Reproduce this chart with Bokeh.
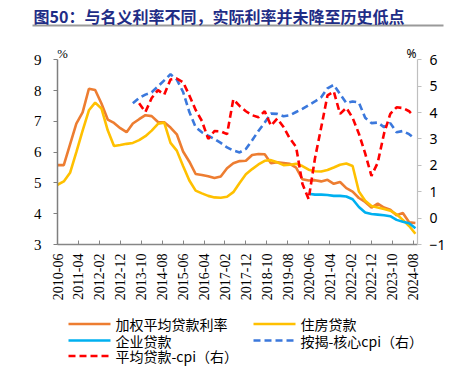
import math
from bokeh.plotting import figure
from bokeh.layouts import column
from bokeh.models import (Range1d, LinearAxis, FixedTicker, Label, ColumnDataSource)
from bokeh.embed import file_html
from bokeh.resources import INLINE

# ---------------- data ----------------
title_text = "图50：与名义利率不同，实际利率并未降至历史低点"

tick_labels = ["2010-06", "2011-04", "2012-02", "2012-12", "2013-10", "2014-08",
               "2015-06", "2016-04", "2017-02", "2017-12", "2018-10", "2019-08",
               "2020-06", "2021-04", "2022-02", "2022-12", "2023-10", "2024-08"]

quarters = ["2010-06", "2010-09", "2010-12", "2011-03", "2011-06", "2011-09", "2011-12",
            "2012-03", "2012-06", "2012-09", "2012-12", "2013-03", "2013-06", "2013-09",
            "2013-12", "2014-03", "2014-06", "2014-09", "2014-12", "2015-03", "2015-06",
            "2015-09", "2015-12", "2016-03", "2016-06", "2016-09", "2016-12", "2017-03",
            "2017-06", "2017-09", "2017-12", "2018-03", "2018-06", "2018-09", "2018-12",
            "2019-03", "2019-06", "2019-09", "2019-12", "2020-03", "2020-06", "2020-09",
            "2020-12", "2021-03", "2021-06", "2021-09", "2021-12", "2022-03", "2022-06",
            "2022-09", "2022-12", "2023-03", "2023-06", "2023-09", "2023-12", "2024-03",
            "2024-06", "2024-09"]

weighted_avg = [5.58, 5.58, 6.25, 6.93, 7.29, 8.06, 8.02, 7.58, 7.06, 6.95,
                6.78, 6.65, 6.93, 7.07, 7.20, 7.17, 6.98, 6.97, 6.80, 6.58,
                6.02, 5.69, 5.29, 5.26, 5.22, 5.16, 5.21, 5.48, 5.64, 5.71,
                5.72, 5.91, 5.94, 5.93, 5.64, 5.67, 5.65, 5.62, 5.50, 5.12,
                5.08, 5.09, 5.05, 5.10, 4.97, 5.03, 4.83, 4.72, 4.51, 4.38,
                4.20, 4.33, 4.20, 4.13, 3.95, 4.02, 3.72, 3.70]

housing = [4.94, 5.05, 5.33, 6.00, 6.70, 7.36, 7.61, 7.42, 6.71, 6.20,
           6.23, 6.27, 6.30, 6.39, 6.52, 6.70, 6.92, 6.96, 6.30, 6.05,
           5.55, 5.08, 4.75, 4.66, 4.58, 4.53, 4.52, 4.55, 4.70, 5.00,
           5.28, 5.45, 5.60, 5.72, 5.74, 5.67, 5.58, 5.59, 5.62, 5.55,
           5.43, 5.38, 5.37, 5.42, 5.50, 5.59, 5.63, 5.55, 4.72, 4.42,
           4.25, 4.20, 4.15, 4.10, 3.98, 3.80, 3.60, 3.35]

corp_quarters = quarters[40:]
corporate = [4.65, 4.62, 4.62, 4.61, 4.58, 4.58, 4.56, 4.47, 4.22, 4.04,
             3.99, 3.97, 3.95, 3.92, 3.80, 3.74, 3.69, 3.53]

mort_dates = quarters[12:57] + ["2024-08"]
mortgage_core = [4.35, 4.55, 4.68, 4.77, 4.99, 5.22, 5.45, 5.25, 4.78, 4.02,
                 3.45, 3.25, 3.12, 3.00, 2.85, 2.68, 2.56, 2.49, 2.62, 2.95,
                 3.30, 3.62, 3.96, 3.95, 3.86, 3.90, 4.02, 4.14, 4.28, 4.42,
                 4.58, 4.92, 5.05, 4.70, 4.36, 4.42, 4.38, 3.80, 3.60, 3.62,
                 3.45, 3.60, 3.25, 3.30, 3.18, 3.05]

real_dates = quarters[13:57] + ["2024-08"]
avg_real = [4.35, 4.02, 4.55, 4.85, 4.68, 5.25, 5.29, 5.15, 4.65, 4.10,
            3.68, 3.00, 3.30, 3.29, 3.18, 4.50, 4.25, 4.05, 3.90, 3.82,
            4.05, 3.50, 3.77, 3.45, 3.02, 2.70, 1.30, 0.72, 2.26, 3.44,
            4.65, 4.80, 3.95, 4.18, 3.80, 3.20, 2.45, 1.60, 2.10, 3.20,
            3.95, 4.20, 4.17, 4.05, 3.88]

left_ticks = [3, 4, 5, 6, 7, 8, 9]
right_ticks = [-1, 0, 1, 2, 3, 4, 5, 6]

series_names = ["加权平均贷款利率", "住房贷款", "企业贷款", "按揭-核心cpi（右）", "平均贷款-cpi（右）"]
series_colors = ["#ED7D31", "#FFC000", "#00B0F0", "#3B78DC", "#FF0000"]
series_dash = ["solid", "solid", "solid", "7 4", "7 4"]


def month_index(s):
    y, m = s.split("-")
    return (int(y) - 2010) * 12 + int(m) - 6


tick_pos = [month_index(t) for t in tick_labels]

# ---------------- title strip ----------------
pt = figure(width=450, height=30, output_backend="svg", toolbar_location=None,
            x_range=Range1d(0, 450), y_range=Range1d(0, 30),
            x_axis_type=None, y_axis_type=None, min_border=0, frame_align=False)
pt.outline_line_color = None
pt.add_layout(Label(x=33, y=15, text=title_text,
                    text_font="Noto Sans CJK SC", text_font_style="bold",
                    text_font_size="16px", text_color="#1F2D86",
                    text_baseline="middle", text_align="left"))
pt.segment(x0=[32], y0=[5], x1=[443], y1=[5], line_color="#9A9A9A", line_width=2)

# ---------------- main chart ----------------
p = figure(width=450, height=280, output_backend="svg", toolbar_location=None,
           x_range=Range1d(0, 172), y_range=Range1d(3, 9.465),
           min_border_left=57, min_border_right=33, min_border_top=15,
           min_border_bottom=66, frame_align=False)
p.extra_y_ranges = {"right": Range1d(-1, 6.541)}
p.outline_line_color = None
p.xgrid.visible = False
p.ygrid.visible = False

src_q = ColumnDataSource(dict(x=[month_index(q) for q in quarters], wa=weighted_avg, hs=housing))
src_c = ColumnDataSource(dict(x=[month_index(q) for q in corp_quarters], y=corporate))
src_m = ColumnDataSource(dict(x=[month_index(q) for q in mort_dates], y=mortgage_core))
src_r = ColumnDataSource(dict(x=[month_index(q) for q in real_dates], y=avg_real))

p.line("x", "wa", source=src_q, line_color=series_colors[0], line_width=2.6)
p.line("x", "hs", source=src_q, line_color=series_colors[1], line_width=2.6)
p.line("x", "y", source=src_c, line_color=series_colors[2], line_width=2.6)
p.line("x", "y", source=src_m, line_color=series_colors[3], line_width=2.6,
       line_dash=series_dash[3], y_range_name="right")
p.line("x", "y", source=src_r, line_color=series_colors[4], line_width=2.6,
       line_dash=series_dash[4], y_range_name="right")

# x axis
xa = p.xaxis[0]
xa.ticker = FixedTicker(ticks=tick_pos)
xa.major_label_overrides = {pos: lab for pos, lab in zip(tick_pos, tick_labels)}
xa.major_label_orientation = math.pi / 2
xa.major_label_text_font = "Liberation Serif"
xa.major_label_text_font_size = "14px"
xa.major_label_text_color = "black"
xa.axis_line_color = "#868686"
xa.axis_line_width = 1.5
xa.major_tick_line_color = "#868686"
xa.major_tick_in = 4
xa.major_tick_out = 0
xa.minor_tick_line_color = None
xa.major_label_standoff = 9

# left axis
ya = p.yaxis[0]
ya.ticker = FixedTicker(ticks=left_ticks)
ya.bounds = (3, 9)
ya.major_label_text_font = "Liberation Serif"
ya.major_label_text_font_size = "15px"
ya.major_label_text_color = "black"
ya.axis_line_color = "#7F7F7F"
ya.axis_line_width = 1.5
ya.major_tick_line_color = "#7F7F7F"
ya.major_tick_out = 4
ya.major_tick_in = 0
ya.minor_tick_line_color = None
ya.major_label_standoff = 12

# right axis
ra = LinearAxis(y_range_name="right", ticker=FixedTicker(ticks=right_ticks), bounds=(-1, 6))
ra.major_label_text_font = "Noto Sans"
ra.major_label_text_font_size = "14px"
ra.major_label_text_color = "black"
ra.axis_line_color = "#BFBFBF"
ra.axis_line_width = 1.2
ra.major_tick_line_color = "#BFBFBF"
ra.major_tick_out = 4
ra.major_tick_in = 0
ra.minor_tick_line_color = None
ra.major_label_standoff = 8
p.add_layout(ra, "right")

# unit marks
p.add_layout(Label(x=2.3, y=9.2, text="%", text_font="Liberation Serif",
                   text_font_size="13px", text_color="black",
                   text_baseline="middle", text_align="center"))
p.add_layout(Label(x=172, y=9.2, x_offset=-1, text="%", text_font="Noto Sans",
                   text_font_size="12px", text_color="black",
                   text_baseline="middle", text_align="right"))

# ---------------- legend strip (swatches + labels, two columns) ----------------
pl = figure(width=450, height=65, output_backend="svg", toolbar_location=None,
            x_range=Range1d(0, 450), y_range=Range1d(0, 65),
            x_axis_type=None, y_axis_type=None, min_border=0, frame_align=False)
pl.outline_line_color = None
col_x = [68, 253]
row_y = [51.5, 35, 19.5]
for i, (name, col, dash) in enumerate(zip(series_names, series_colors, series_dash)):
    cx = col_x[i % 2]
    cy = row_y[i // 2]
    pl.segment(x0=[cx], y0=[cy], x1=[cx + 42], y1=[cy], line_color=col,
               line_width=2.6, line_dash=dash)
    pl.add_layout(Label(x=cx + 47, y=cy, text=name, text_font="Noto Sans CJK SC",
                        text_font_size="14px", text_color="black",
                        text_baseline="middle", text_align="left"))

layout = column(pt, p, pl, spacing=0)
open("out.html", "w").write(file_html(layout, INLINE))
